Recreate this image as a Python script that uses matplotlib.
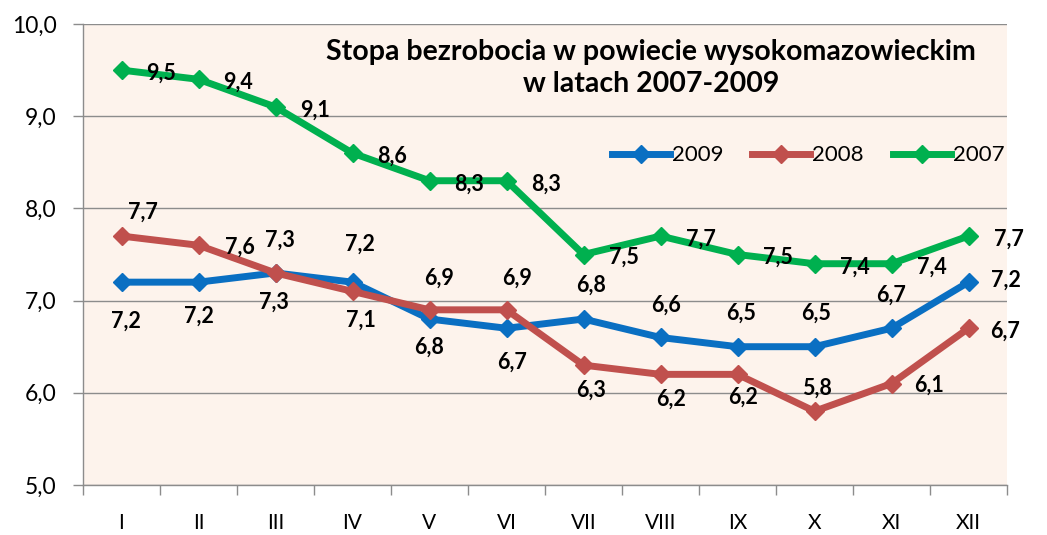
import matplotlib
matplotlib.use("Agg")
import matplotlib.pyplot as plt
from matplotlib.ticker import FuncFormatter, FixedLocator

months = ["I", "II", "III", "IV", "V", "VI", "VII", "VIII", "IX", "X", "XI", "XII"]
years = ["2009", "2008", "2007"]
rate_2009 = [7.2, 7.2, 7.3, 7.2, 6.8, 6.7, 6.8, 6.6, 6.5, 6.5, 6.7, 7.2]
rate_2008 = [7.7, 7.6, 7.3, 7.1, 6.9, 6.9, 6.3, 6.2, 6.2, 5.8, 6.1, 6.7]
rate_2007 = [9.5, 9.4, 9.1, 8.6, 8.3, 8.3, 7.5, 7.7, 7.5, 7.4, 7.4, 7.7]
title = "Stopa bezrobocia w powiecie wysokomazowieckim\nw latach 2007-2009"

colors = {"2009": "#0a6fc2", "2008": "#c0504d", "2007": "#00b04f"}

# label offsets in pixels (dx right, dy down), placed by hand like in the source
off_2009 = [(4, 39), (0, 34), (4, -33), (7, -38), (0, 28), (6, 34),
            (8, -34), (6, -32), (4, -33), (2, -33), (0, -33), (37, -2)]
off_2008 = [(21, -24), (41, 2), (-2, 29), (8, 29), (10, -32), (11, -32),
            (8, 25), (11, 25), (6, 23), (2, -23), (38, 2), (37, 3)]
off_2007 = [(40, 3)] * 12

plt.rcParams['font.family'] = ['Lato', 'DejaVu Sans']

fig = plt.figure(figsize=(10.47, 5.35), dpi=100)
ax = fig.add_axes([83 / 1047, 50 / 535, 924 / 1047, 461 / 535])
ax.set_facecolor("#fdf3ec")

x = list(range(len(months)))
series = [("2009", rate_2009, off_2009), ("2008", rate_2008, off_2008),
          ("2007", rate_2007, off_2007)]
for name, vals, offs in series:
    ax.plot(x, vals, color=colors[name], lw=5, marker="D", ms=9,
            mfc=colors[name], mec=colors[name], label=name,
            solid_joinstyle="miter", zorder=3)
    for xi, v, (dx, dy) in zip(x, vals, offs):
        ax.annotate(f"{v:.1f}".replace(".", ","), (xi, v), xytext=(dx, -dy),
                    textcoords="offset pixels", ha="center", va="center",
                    fontsize=15.5, fontweight="bold", color="black", zorder=4)

ax.set_xlim(-0.5, 11.5)
ax.set_ylim(5, 10)
ax.set_yticks([5, 6, 7, 8, 9, 10])
ax.yaxis.set_major_formatter(FuncFormatter(lambda v, p: f"{v:.1f}".replace(".", ",")))
ax.grid(axis="y", color="#8c8c8c", lw=1)
ax.set_axisbelow(True)

ax.set_xticks(x)
ax.set_xticklabels(months)
ax.xaxis.set_minor_locator(FixedLocator([i - 0.5 for i in range(13)]))
ax.tick_params(axis="x", which="major", length=0, pad=20, labelsize=15)
ax.tick_params(axis="x", which="minor", length=7, color="#8c8c8c", width=1)
ax.tick_params(axis="y", length=7, color="#8c8c8c", width=1, pad=12, labelsize=16.5)

for s in ["top", "right"]:
    ax.spines[s].set_visible(False)
for s in ["left", "bottom"]:
    ax.spines[s].set_color("#8c8c8c")
    ax.spines[s].set_linewidth(1)

ax.text(0.615, 0.905, title, transform=ax.transAxes, ha="center", va="center",
        fontsize=20.5, fontweight="bold", linespacing=1.3)

ax.legend(loc="center", bbox_to_anchor=(0.785, 0.715), ncol=3, frameon=False,
          fontsize=16, handlelength=2.6, columnspacing=1.3, handletextpad=0.1)

fig.savefig("out.png", dpi=100, facecolor="white")
